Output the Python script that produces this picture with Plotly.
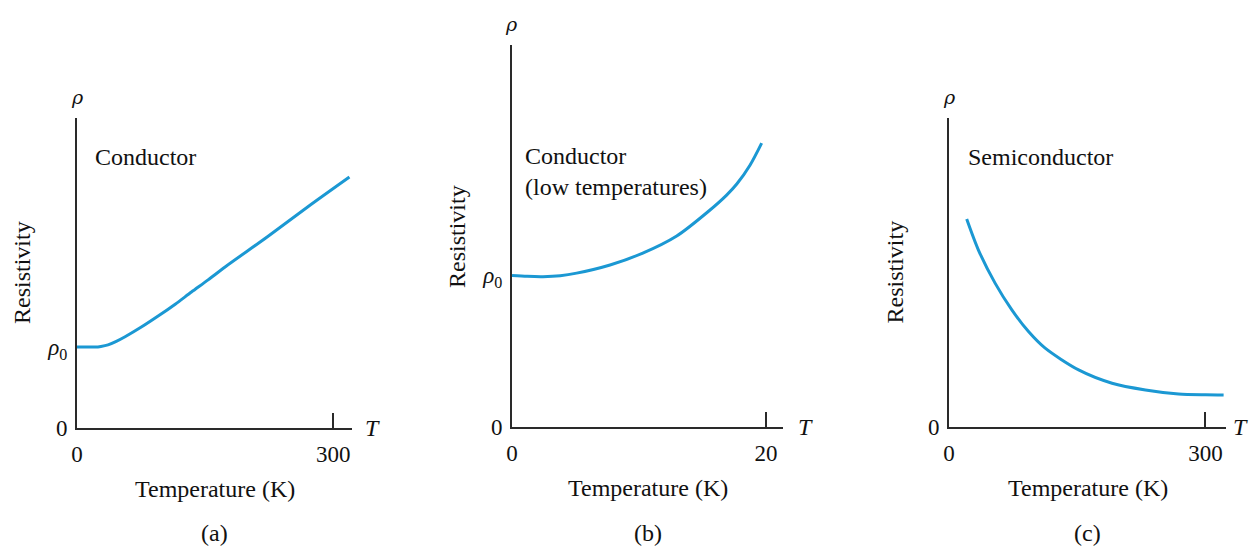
import plotly.graph_objects as go

# ---------------- data ----------------
# (a) Conductor
temp_a = [0, 10, 21, 28, 36.3, 46, 56.3, 75.8, 95, 115, 134, 153.5, 173.4, 222.6, 270, 319]
rho_a = [1.0, 1.0, 1.0, 1.008, 1.027, 1.07, 1.127, 1.25, 1.383, 1.53, 1.68, 1.83, 1.99, 2.36, 2.73, 3.10]
# (b) Conductor (low temperatures)
temp_b = [0, 1.2, 2.44, 3.8, 5.09, 7.72, 10.3, 12.97, 15.43, 16.9, 17.7, 18.74, 19.66]
rho_b = [1.0, 0.994, 0.992, 0.998, 1.015, 1.069, 1.147, 1.26, 1.42, 1.53, 1.603, 1.727, 1.873]
# (c) Semiconductor
temp_c = [20.7, 34.3, 53.9, 73.5, 93, 112.5, 151.6, 190.7, 229.8, 268.5, 300, 321.2]
rho_c = [2.564, 2.185, 1.774, 1.444, 1.177, 0.972, 0.704, 0.54, 0.457, 0.407, 0.397, 0.395]

panel_names = ["Conductor", "Conductor<br>(low temperatures)", "Semiconductor"]
panel_letters = ["(a)", "(b)", "(c)"]
x_tickvals = [[0, 300], [0, 20], [0, 300]]
x_ticktext = [["0", "300"], ["0", "20"], ["0", "300"]]
y_tickvals = [[0, 1], [0, 1], [0]]
y_ticktext = [["0", "<i>ρ</i><sub>0</sub>"], ["0", "<i>ρ</i><sub>0</sub>"], ["0"]]
x_ranges = [[0, 322], [0, 21.34], [0, 324]]
y_ranges = [[0, 3.83], [0, 2.52], [0, 3.81]]
label_pos = [(18.8, 3.35), (0.9, 1.0 + (275.5 - 172) / 151.5), (20.0, 3.33)]

# ---------------- layout geometry (pixels) ----------------
W, H = 1249, 547
px_x = [(77, 352), (512, 783), (949, 1226)]
px_y = [(118, 428), (45, 427), (118, 427)]
t_shift = [20, 22, 14]

LINE_COLOR = "#1b98d3"
AX_COLOR = "#2a2a2a"
FONT = "Liberation Serif"
FS = 24
TFS = 23

fig = go.Figure()
series = [(temp_a, rho_a), (temp_b, rho_b), (temp_c, rho_c)]
for i, (tx, ry) in enumerate(series):
    sfx = "" if i == 0 else str(i + 1)
    fig.add_trace(go.Scatter(x=tx, y=ry, mode="lines",
                             line=dict(color=LINE_COLOR, width=3, shape="spline", smoothing=0.8),
                             xaxis="x" + sfx, yaxis="y" + sfx, showlegend=False, hoverinfo="skip"))

layout = dict(
    template="none",
    width=W, height=H, margin=dict(l=0, r=0, t=0, b=0, pad=0, autoexpand=False),
    paper_bgcolor="white", plot_bgcolor="white",
    font=dict(family=FONT, size=FS, color="#111111"),
    showlegend=False,
)
annotations = []
for i in range(3):
    sfx = "" if i == 0 else str(i + 1)
    xd = [px_x[i][0] / W, px_x[i][1] / W]
    yd = [1 - px_y[i][1] / H, 1 - px_y[i][0] / H]
    layout["xaxis" + sfx] = dict(
        domain=xd, range=x_ranges[i], anchor="y" + sfx, showgrid=False, zeroline=False,
        automargin=False, fixedrange=True,
        showline=True, linecolor=AX_COLOR, linewidth=2,
        tickmode="array", tickvals=x_tickvals[i], ticktext=x_ticktext[i],
        ticks="inside", ticklen=15, tickwidth=1.5, tickcolor=AX_COLOR,
        ticklabelstandoff=4, tickfont=dict(family=FONT, size=TFS, color="#111111"),
    )
    layout["yaxis" + sfx] = dict(
        domain=yd, range=y_ranges[i], anchor="x" + sfx, showgrid=False, zeroline=False,
        automargin=False, fixedrange=True,
        showline=True, linecolor=AX_COLOR, linewidth=2,
        tickmode="array", tickvals=y_tickvals[i], ticktext=y_ticktext[i],
        ticks="", ticklabelstandoff=3, tickfont=dict(family=FONT, size=TFS, color="#111111"),
    )
    xr, yr = "x" + sfx, "y" + sfx
    # axis titles
    annotations.append(dict(text="Temperature (K)", xref=xr + " domain", yref=yr + " domain",
                            x=0.5, y=0, yshift=-61, showarrow=False, xanchor="center", yanchor="middle",
                            font=dict(family=FONT, size=FS)))
    annotations.append(dict(text="Resistivity", xref=xr + " domain", yref=yr + " domain",
                            x=0, y=0.5, xshift=-55, textangle=-90, showarrow=False,
                            xanchor="center", yanchor="middle", font=dict(family=FONT, size=FS)))
    # axis symbols
    annotations.append(dict(text="<i>T</i>", xref=xr + " domain", yref=yr,
                            x=1, y=0, xshift=t_shift[i], showarrow=False, xanchor="center", yanchor="middle",
                            font=dict(family=FONT, size=FS)))
    annotations.append(dict(text="<i>ρ</i>", xref=xr + " domain", yref=yr + " domain",
                            x=0, y=1, yshift=21, showarrow=False, xanchor="center", yanchor="middle",
                            font=dict(family="DejaVu Serif", size=19)))
    # panel label
    annotations.append(dict(text=panel_letters[i], xref=xr + " domain", yref="paper",
                            x=0.5, y=1 - 533 / H, showarrow=False, xanchor="center", yanchor="middle",
                            font=dict(family=FONT, size=FS)))
    # curve name
    lx, ly = label_pos[i]
    annotations.append(dict(text=panel_names[i], xref=xr, yref=yr, x=lx, y=ly, showarrow=False,
                            xanchor="left", yanchor="middle", align="left",
                            font=dict(family=FONT, size=FS)))
layout["annotations"] = annotations
fig.update_layout(**layout)
fig.write_html("out.html", config={"displayModeBar": False},
               post_script="document.body.style.margin='0px';document.body.style.overflow='hidden';")
